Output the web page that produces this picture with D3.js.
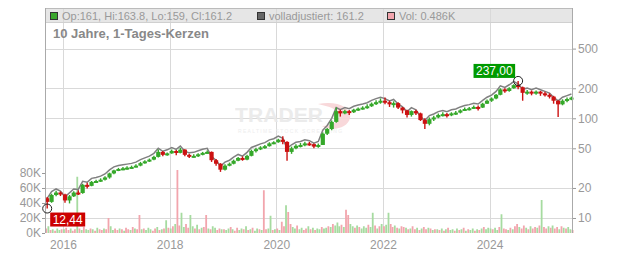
<!DOCTYPE html>
<html>
<head>
<meta charset="utf-8">
<script src="https://cdn.jsdelivr.net/npm/d3@7"></script>
<style>
  body { margin: 0; background: #fff; }
  svg { display: block; font-family: Arial, "Liberation Sans", sans-serif; }
</style>
</head>
<body>
<svg id="chart" width="632" height="253"></svg>
<script>
// monthly candles, Sep 2015 .. Jul 2025
const firstOpen = 15.8;
const closes = [
  14.5, 17.0, 18.0, 17.2,
  15.0, 16.5, 18.0, 17.8, 21.5, 21.0, 23.0, 23.5, 24.2, 25.5, 28.0, 30.0,
  31.0, 31.5, 32.0, 32.5, 33.5, 35.5, 37.0, 38.5, 41.0, 46.0, 43.0, 44.5,
  47.0, 45.0, 48.5, 43.0, 41.5, 42.0, 43.5, 45.0, 46.0, 38.0, 35.0, 30.5,
  33.5, 35.0, 37.5, 40.0, 38.5, 42.0, 47.0, 49.0, 51.0, 52.5, 56.0, 57.5,
  61.0, 58.0, 46.0, 50.0, 53.0, 54.0, 56.0, 55.0, 52.0, 54.0, 70.0, 78.0,
  92.0, 118, 112, 118, 115, 122, 125, 128, 132, 140, 145, 150,
  145, 138, 142, 128, 120, 108, 118, 112, 96, 88, 98, 102,
  108, 110, 108, 112, 114, 120, 124, 126, 130, 128, 140, 150,
  158, 172, 195, 188, 200, 215, 205, 180, 185, 178, 185, 178,
  172, 165, 150, 138, 150, 156, 161.2
];
const highs = [
  16.2, 17.5, 18.8, 18.5,
  17.5, 17.0, 18.5, 19.0, 22.0, 22.5, 23.5, 24.2, 25.0, 26.2, 28.5, 30.5,
  31.8, 32.5, 33.0, 33.5, 34.5, 36.5, 38.0, 39.5, 42.0, 48.5, 47.0, 45.5,
  48.5, 48.0, 50.5, 49.0, 44.0, 43.5, 44.5, 46.0, 47.5, 46.5, 39.0, 35.5,
  34.5, 36.0, 38.5, 41.0, 41.5, 43.0, 48.5, 50.5, 52.5, 54.0, 57.5, 59.0,
  62.5, 66.0, 59.0, 52.0, 55.0, 56.5, 58.0, 58.0, 56.0, 56.0, 72.0, 80.0,
  95.0, 128, 122, 122, 121, 125, 128, 132, 138, 144, 152, 158,
  162, 150, 148, 145, 130, 122, 120, 122, 114, 100, 102, 106,
  112, 115, 113, 115, 118, 123, 128, 130, 134, 134, 143, 154,
  162, 175, 200, 200, 205, 220, 237, 208, 192, 190, 190, 188,
  185, 178, 168, 152, 155, 162, 165
];
const lows = [
  12.44, 14.2, 16.5, 16.6,
  14.2, 14.0, 16.2, 17.0, 17.5, 19.8, 20.8, 22.5, 23.0, 23.8, 24.8, 27.5,
  29.5, 30.2, 30.5, 31.2, 32.0, 33.0, 35.0, 36.5, 38.0, 40.5, 41.5, 42.0,
  44.0, 42.5, 44.5, 41.5, 40.0, 40.5, 41.0, 42.5, 44.0, 36.5, 33.5, 29.0,
  30.0, 33.0, 34.5, 37.0, 37.5, 38.0, 41.5, 45.5, 48.0, 49.5, 52.0, 55.0,
  57.0, 55.0, 37.5, 44.0, 49.0, 51.0, 52.5, 53.0, 50.0, 50.5, 54.0, 68.0,
  76.0, 90.0, 104, 110, 108, 113, 118, 122, 125, 130, 136, 140,
  138, 130, 128, 124, 112, 102, 104, 108, 94, 78, 85, 94,
  100, 104, 102, 105, 108, 112, 118, 120, 124, 120, 127, 139,
  146, 155, 170, 180, 185, 198, 195, 150, 172, 170, 172, 168,
  165, 158, 140, 103, 135, 145, 152
];
const adjusted = [
  15.4, 18.0, 19.1, 18.2,
  15.9, 17.5, 19.1, 18.9, 22.8, 22.3, 24.4, 24.9, 25.7, 27.0, 29.7, 31.8,
  32.9, 33.4, 33.9, 34.5, 35.5, 37.6, 39.2, 40.8, 43.5, 48.8, 45.6, 47.2,
  49.8, 47.7, 51.4, 45.6, 44.0, 44.5, 46.1, 47.7, 48.8, 40.3, 37.1, 32.3,
  35.5, 37.1, 39.8, 42.4, 40.8, 44.5, 49.8, 51.9, 54.1, 55.7, 59.4, 61.0,
  64.7, 61.5, 48.8, 53.0, 56.2, 57.2, 59.4, 58.3, 55.1, 57.2, 74.2, 82.7,
  97.5, 125, 119, 125, 122, 129, 133, 136, 140, 148, 154, 159,
  154, 146, 151, 136, 127, 114, 125, 119, 102, 93, 104, 108,
  114, 117, 114, 119, 121, 127, 131, 134, 138, 136, 148, 159,
  167, 182, 207, 199, 212, 228, 217, 191, 196, 189, 196, 189,
  182, 175, 159, 146, 159, 165, 171
];

// half-monthly volume in K, Sep 2015 .. Jul 2025
const volumes = [
  6, 9, 4, 5, 3, 6, 4, 5,
  5, 7, 4, 6, 3, 5, 75, 6, 4, 8, 5, 4, 6, 5, 3, 7, 5, 4, 6, 5, 20, 9, 4, 6,
  4, 6, 5, 3, 7, 5, 4, 8, 6, 5, 24, 5, 6, 4, 7, 5, 3, 6, 8, 4, 5, 6, 17, 7,
  6, 9, 12, 84, 10, 27, 8, 12, 7, 24, 9, 6, 11, 5, 7, 8, 24, 6, 5, 9, 7, 4, 6, 5,
  5, 4, 6, 8, 5, 3, 7, 4, 6, 5, 9, 4, 5, 7, 3, 6, 5, 4, 57, 5, 6, 23, 4, 5,
  6, 4, 15, 9, 37, 28, 12, 8, 6, 10, 5, 7, 4, 6, 9, 5, 7, 4, 6, 5, 8, 6, 7, 9,
  8, 12, 10, 14, 9, 11, 8, 31, 24, 12, 9, 7, 10, 8, 6, 9, 7, 11, 8, 27, 10, 6, 9, 12,
  9, 11, 27, 12, 8, 10, 7, 6, 9, 8, 7, 5, 6, 9, 5, 7, 4, 6, 8, 5, 7, 6, 4, 5,
  5, 4, 6, 3, 5, 7, 4, 5, 3, 6, 4, 5, 7, 3, 5, 4, 6, 3, 5, 4, 6, 8, 5, 7,
  6, 5, 7, 4, 8, 25, 6, 5, 4, 7, 5, 9, 12, 8, 6, 10, 7, 5, 9, 6, 8, 7, 10, 44,
  8, 6, 9, 7, 10, 6, 8, 5, 9, 7, 6, 8, 5, 4
];
const volDir =
  "rgrgrggr" +
  "grrgrrgrgrggrgrgrrgrrggr" +
  "rgrgrrgrgrrgrgggrrgrgrgr" +
  "grgrrggrrggrgrgrrgrggrrg" +
  "rggrgrrggrgrgrggrgrrggrg" +
  "rgrrgrrggrggrrgrgrggrggr" +
  "grgggrgrrggrgrgggrggrgrg" +
  "rggrrgrgrrgrgrrgrgrrgrgr" +
  "grgrgrggrgrgrgrggrgrgrgg" +
  "grggrgrrgrgrrgrrgrgrrgrg" +
  "rrgrgrrgrgrggr";

const priceTicks = [10, 20, 50, 100, 200, 500];
const volTicks = [0, 20, 40, 60, 80];
const yearTicks = [2016, 2018, 2020, 2022, 2024];
const legendItems = [
  { text: "Op:161, Hi:163.8, Lo:159, Cl:161.2", color: "#3aa62c" },
  { text: "volladjustiert: 161.2", color: "#666" },
  { text: "Vol: 0.486K", color: "#f2a5ad" }
];
const title = "10 Jahre, 1-Tages-Kerzen";

const margin = { top: 8, right: 60, bottom: 20, left: 45 };
const W = 632, H = 253;
const plotL = margin.left, plotR = W - margin.right, plotT = margin.top, plotB = H - margin.bottom;

const svg = d3.select("#chart");

const x = d3.scaleTime()
  .domain([new Date(2015, 7, 31), new Date(2025, 6, 19)])
  .range([plotL, plotR]);
const y = d3.scaleLog().domain([7.07, 1277]).range([plotB, plotT]);
const yVol = d3.scaleLinear().domain([0, 300]).range([plotB, plotT]);

const monthDate = i => new Date(2015, 8 + i, 15);
const halfDate = j => new Date(2015, 8 + (j >> 1), j % 2 ? 23 : 8);

const candles = closes.map((c, i) => ({
  date: monthDate(i),
  open: i === 0 ? firstOpen : closes[i - 1],
  high: highs[i], low: lows[i], close: c
}));

// header band
svg.append("rect")
  .attr("x", plotL).attr("y", plotT)
  .attr("width", plotR - plotL).attr("height", 14)
  .attr("fill", "#e6e6e6");

// grid
svg.append("g").selectAll("line")
  .data(yearTicks)
  .join("line")
  .attr("x1", d => Math.round(x(new Date(d, 0, 1))) + 0.5)
  .attr("x2", d => Math.round(x(new Date(d, 0, 1))) + 0.5)
  .attr("y1", plotT).attr("y2", plotB)
  .attr("stroke", "#d9d9d9");
svg.append("g").selectAll("line")
  .data(priceTicks)
  .join("line")
  .attr("x1", plotL).attr("x2", plotR)
  .attr("y1", d => Math.round(y(d)) + 0.5).attr("y2", d => Math.round(y(d)) + 0.5)
  .attr("stroke", "#d9d9d9");
svg.append("line")
  .attr("x1", plotL).attr("x2", plotR)
  .attr("y1", plotT + 14.5).attr("y2", plotT + 14.5)
  .attr("stroke", "#d0d0d0");
svg.append("line")
  .attr("x1", plotL).attr("x2", plotR)
  .attr("y1", plotT + 0.5).attr("y2", plotT + 0.5)
  .attr("stroke", "#bbb");

// watermark
const wm = svg.append("g").attr("opacity", 0.9);
wm.append("text")
  .attr("x", 235).attr("y", 122)
  .attr("textLength", 88)
  .attr("font-size", 21).attr("font-weight", "bold")
  .attr("fill", "#e9e9e9")
  .text("TRADER");
wm.append("path")
  .attr("d", "M318,104 C338,100 352,108 350,118 C348,128 332,132 322,126 C334,126 342,120 338,113 C334,107 326,106 318,104 Z")
  .attr("fill", "#f8d4d6");
wm.append("text")
  .attr("x", 238).attr("y", 133)
  .attr("font-size", 5).attr("letter-spacing", 1.3)
  .attr("fill", "#ececec")
  .text("REALTIME STOCK SCREENING");

// volume
svg.append("g").selectAll("rect")
  .data(volumes)
  .join("rect")
  .attr("x", (d, j) => x(halfDate(j)) - 0.9)
  .attr("width", 1.8)
  .attr("y", d => yVol(d))
  .attr("height", d => plotB - yVol(d))
  .attr("fill", (d, j) => volDir[j] === "g" ? "#a6dba0" : "#f2a5ad");

// adjusted line
svg.append("path")
  .datum(adjusted)
  .attr("fill", "none")
  .attr("stroke", "#808080")
  .attr("stroke-width", 1.5)
  .attr("d", d3.line().x((d, i) => x(monthDate(i))).y(d => y(d) - 1));

// candles
const cg = svg.append("g").selectAll("g")
  .data(candles)
  .join("g")
  .attr("stroke", d => d.close >= d.open ? "#35a82a" : "#cc1111")
  .attr("fill", d => d.close >= d.open ? "#35a82a" : "#cc1111");
cg.append("line")
  .attr("x1", d => x(d.date)).attr("x2", d => x(d.date))
  .attr("y1", d => y(d.high)).attr("y2", d => y(d.low))
  .attr("stroke-width", 1.4);
cg.append("rect")
  .attr("x", d => x(d.date) - 2.1)
  .attr("width", 4.2)
  .attr("y", d => y(Math.max(d.open, d.close)))
  .attr("height", d => Math.max(2, Math.abs(y(d.open) - y(d.close))))
  .attr("stroke", "none");

// axes
const styleAxis = g => {
  g.select(".domain").remove();
  g.selectAll("line").attr("stroke", "#999");
  g.selectAll("text").attr("fill", "#999").attr("font-size", 12)
    .attr("font-family", "Arial, 'Liberation Sans', sans-serif");
};
svg.append("g")
  .attr("transform", `translate(${plotR},0)`)
  .call(d3.axisRight(y).tickValues(priceTicks).tickFormat(d3.format("d")).tickSize(4).tickPadding(2))
  .call(styleAxis);
svg.append("g")
  .attr("transform", `translate(${plotL},0)`)
  .call(d3.axisLeft(yVol).tickValues(volTicks).tickFormat(d => d + "K").tickSize(3).tickPadding(1))
  .call(styleAxis);
svg.append("g")
  .attr("transform", `translate(0,${plotB})`)
  .call(d3.axisBottom(x).tickValues(yearTicks.map(d => new Date(d, 0, 1))).tickFormat(d3.timeFormat("%Y")).tickSize(0).tickPadding(7))
  .call(styleAxis);

svg.append("line")
  .attr("x1", plotL + 0.5).attr("x2", plotL + 0.5).attr("y1", plotT).attr("y2", plotB)
  .attr("stroke", "#aaa");
svg.append("line")
  .attr("x1", plotR + 0.5).attr("x2", plotR + 0.5).attr("y1", plotT).attr("y2", plotB)
  .attr("stroke", "#aaa");

// legend
const legendX = [50, 257, 387];
const lg = svg.append("g").selectAll("g")
  .data(legendItems)
  .join("g")
  .attr("transform", (d, i) => `translate(${legendX[i]},12)`);
lg.append("rect")
  .attr("x", 0.5).attr("y", 0.5).attr("width", 7).attr("height", 7)
  .attr("fill", d => d.color).attr("stroke", "#333");
lg.append("text")
  .attr("x", 12).attr("y", 8)
  .attr("font-size", 11).attr("fill", "#999")
  .text(d => d.text);

svg.append("text")
  .attr("x", 53).attr("y", 38)
  .attr("font-size", 13).attr("font-weight", "bold").attr("fill", "#888")
  .text(title);

// high / low markers
const hi = candles.reduce((a, b) => b.high > a.high ? b : a);
const lo = candles.reduce((a, b) => b.low < a.low ? b : a);
const fmt = v => v.toFixed(2).replace(".", ",");

function marker(pt, val, color, dx, dy, anchorRight) {
  const cx = x(pt.date), cy = y(val);
  svg.append("circle")
    .attr("cx", cx).attr("cy", cy).attr("r", 4.5)
    .attr("fill", "none").attr("stroke", "#222").attr("stroke-width", 1);
  const label = fmt(val);
  const w = label.length * 6.6 + 2, h = 14;
  const bx = anchorRight ? cx + dx - w : cx + dx;
  const by = cy + dy;
  svg.append("rect")
    .attr("x", bx).attr("y", by).attr("width", w).attr("height", h)
    .attr("fill", color);
  svg.append("text")
    .attr("x", bx + w / 2).attr("y", by + 11)
    .attr("text-anchor", "middle")
    .attr("font-size", 12).attr("fill", "#fff")
    .text(label);
}
marker(hi, hi.high, "#009a00", -3, -17, true);
marker(lo, lo.low, "#cc0000", 3, 4, false);
</script>
</body>
</html>
